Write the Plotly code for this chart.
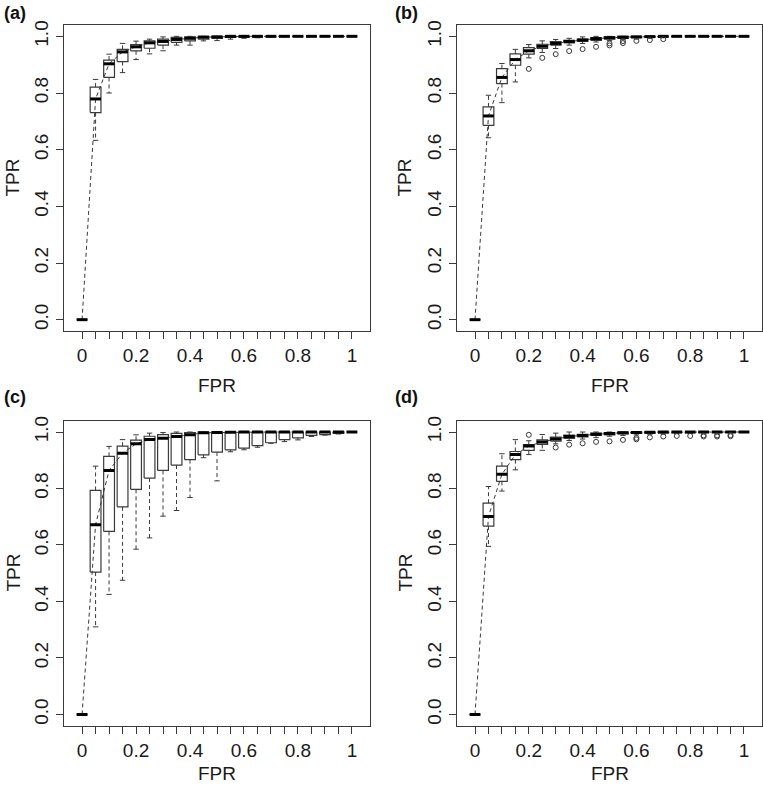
import plotly.graph_objects as go

# ---------------- data ----------------
fpr = [round(i * 0.05, 2) for i in range(21)]
x_tick_labels = ["0", "", "", "", "0.2", "", "", "", "0.4", "", "", "", "0.6", "", "", "", "0.8", "", "", "", "1"]
y_tick_vals = [0, 0.2, 0.4, 0.6, 0.8, 1.0]
y_tick_labels = ["0.0", "0.2", "0.4", "0.6", "0.8", "1.0"]
panel_labels = ["(a)", "(b)", "(c)", "(d)"]

# panel (a)
med_a = [0, 0.779, 0.903, 0.945, 0.963, 0.977, 0.982, 0.989, 0.993, 0.997, 0.998, 1, 1, 1, 1, 1, 1, 1, 1, 1, 1]
q1_a = [0, 0.731, 0.855, 0.911, 0.949, 0.958, 0.969, 0.979, 0.984, 0.990, 0.993, 0.996, 0.997, 0.998, 0.999, 1, 1, 1, 1, 1, 1]
q3_a = [0, 0.821, 0.916, 0.954, 0.971, 0.984, 0.990, 0.996, 0.998, 1, 1, 1, 1, 1, 1, 1, 1, 1, 1, 1, 1]
lo_a = [0, 0.633, 0.800, 0.872, 0.918, 0.938, 0.949, 0.969, 0.969, 0.984, 0.985, 0.990, 0.993, 0.995, 0.997, 0.998, 1, 1, 1, 1, 1]
hi_a = [0, 0.848, 0.937, 0.975, 0.983, 0.990, 0.998, 1, 1, 1, 1, 1, 1, 1, 1, 1, 1, 1, 1, 1, 1]
out_x_a = []
out_y_a = []

# panel (b)
med_b = [0, 0.719, 0.855, 0.918, 0.949, 0.965, 0.975, 0.982, 0.987, 0.992, 0.995, 0.997, 0.998, 0.999, 1, 1, 1, 1, 1, 1, 1]
q1_b = [0, 0.686, 0.833, 0.898, 0.937, 0.957, 0.969, 0.977, 0.982, 0.986, 0.990, 0.993, 0.995, 0.997, 0.998, 1, 1, 1, 1, 1, 1]
q3_b = [0, 0.751, 0.886, 0.938, 0.960, 0.972, 0.981, 0.986, 0.990, 0.995, 0.998, 1, 1, 1, 1, 1, 1, 1, 1, 1, 1]
lo_b = [0, 0.642, 0.766, 0.839, 0.924, 0.943, 0.957, 0.969, 0.975, 0.980, 0.985, 0.988, 0.990, 0.993, 0.995, 1, 1, 1, 1, 1, 1]
hi_b = [0, 0.792, 0.904, 0.954, 0.971, 0.984, 0.989, 0.993, 0.998, 1, 1, 1, 1, 1, 1, 1, 1, 1, 1, 1, 1]
out_x_b = [0.20, 0.25, 0.30, 0.35, 0.40, 0.45, 0.50, 0.50, 0.55, 0.55, 0.60, 0.65, 0.70]
out_y_b = [0.885, 0.924, 0.937, 0.948, 0.955, 0.963, 0.975, 0.968, 0.983, 0.976, 0.984, 0.987, 0.990]

# panel (c)
med_c = [0, 0.672, 0.864, 0.925, 0.958, 0.973, 0.978, 0.984, 0.990, 0.997, 0.998, 0.999, 1, 1, 1, 1, 1, 1, 1, 1, 1]
q1_c = [0, 0.504, 0.648, 0.735, 0.797, 0.837, 0.864, 0.883, 0.902, 0.919, 0.929, 0.937, 0.943, 0.952, 0.962, 0.973, 0.979, 0.988, 0.991, 0.995, 1]
q3_c = [0, 0.793, 0.914, 0.950, 0.971, 0.985, 0.991, 0.995, 0.998, 1, 1, 1, 1, 1, 1, 1, 1, 1, 1, 1, 1]
lo_c = [0, 0.310, 0.425, 0.475, 0.585, 0.625, 0.702, 0.722, 0.768, 0.909, 0.827, 0.930, 0.937, 0.946, 0.960, 0.966, 0.972, 0.984, 0.989, 0.993, 1]
hi_c = [0, 0.879, 0.949, 0.973, 0.990, 0.996, 0.998, 1, 1, 1, 1, 1, 1, 1, 1, 1, 1, 1, 1, 1, 1]
out_x_c = []
out_y_c = []

# panel (d)
med_d = [0, 0.701, 0.850, 0.920, 0.950, 0.965, 0.975, 0.984, 0.988, 0.992, 0.995, 0.997, 0.998, 0.999, 1, 1, 1, 1, 1, 1, 1]
q1_d = [0, 0.667, 0.825, 0.902, 0.935, 0.956, 0.968, 0.977, 0.983, 0.988, 0.990, 0.993, 0.995, 0.996, 0.997, 0.998, 0.998, 0.999, 0.999, 0.999, 1]
q3_d = [0, 0.748, 0.879, 0.931, 0.955, 0.972, 0.982, 0.989, 0.992, 0.996, 0.998, 1, 1, 1, 1, 1, 1, 1, 1, 1, 1]
lo_d = [0, 0.595, 0.791, 0.866, 0.920, 0.935, 0.958, 0.970, 0.975, 0.980, 0.985, 0.988, 0.990, 0.992, 0.993, 0.994, 0.995, 0.996, 0.997, 0.998, 1]
hi_d = [0, 0.807, 0.923, 0.973, 0.969, 0.991, 0.996, 1, 1, 1, 1, 1, 1, 1, 1, 1, 1, 1, 1, 1, 1]
out_x_d = [0.20, 0.30, 0.35, 0.40, 0.45, 0.50, 0.55, 0.60, 0.60, 0.65, 0.70, 0.75, 0.80, 0.85, 0.85, 0.90, 0.90, 0.95, 0.95]
out_y_d = [0.990, 0.945, 0.955, 0.960, 0.965, 0.967, 0.972, 0.979, 0.974, 0.981, 0.984, 0.986, 0.986, 0.988, 0.984, 0.988, 0.984, 0.989, 0.985]

panels = [
    (med_a, q1_a, q3_a, lo_a, hi_a, out_x_a, out_y_a),
    (med_b, q1_b, q3_b, lo_b, hi_b, out_x_b, out_y_b),
    (med_c, q1_c, q3_c, lo_c, hi_c, out_x_c, out_y_c),
    (med_d, q1_d, q3_d, lo_d, hi_d, out_x_d, out_y_d),
]

# ---------------- styling / layout ----------------
W, H = 763, 786
BOX_HW = 0.02     # box half width (FPR units)
CAP_HW = 0.01     # whisker cap half width
LINE_COL = "#3a3a3a"
FONT = "Liberation Sans, Arial, Helvetica, sans-serif"
FS = 19

x_domains = [[64 / W, 370 / W], [457 / W, 762 / W]]
y_domains = [[1 - 331 / H, 1 - 25 / H], [1 - 725.7 / H, 1 - 420.7 / H]]

fig = go.Figure()

for p, (med, q1, q3, lo, hi, ox, oy) in enumerate(panels):
    xa = "x" if p == 0 else f"x{p + 1}"
    ya = "y" if p == 0 else f"y{p + 1}"

    wx, wy, cx, cy, bx, by, mx, my = [], [], [], [], [], [], [], []
    for i, xv in enumerate(fpr):
        wx += [xv, xv, None, xv, xv, None]
        wy += [q3[i], hi[i], None, q1[i], lo[i], None]
        cx += [xv - CAP_HW, xv + CAP_HW, None, xv - CAP_HW, xv + CAP_HW, None]
        cy += [hi[i], hi[i], None, lo[i], lo[i], None]
        bx += [xv - BOX_HW, xv + BOX_HW, xv + BOX_HW, xv - BOX_HW, xv - BOX_HW, None]
        by += [q1[i], q1[i], q3[i], q3[i], q1[i], None]
        mx += [xv - BOX_HW, xv + BOX_HW, None]
        my += [med[i], med[i], None]

    common = dict(xaxis=xa, yaxis=ya, showlegend=False, hoverinfo="skip")
    fig.add_trace(go.Scatter(x=wx, y=wy, mode="lines",
                             line=dict(color=LINE_COL, width=1, dash="4px,3px"), **common))
    fig.add_trace(go.Scatter(x=cx, y=cy, mode="lines",
                             line=dict(color=LINE_COL, width=1), **common))
    fig.add_trace(go.Scatter(x=bx, y=by, mode="lines",
                             line=dict(color=LINE_COL, width=1.2), **common))
    fig.add_trace(go.Scatter(x=fpr, y=med, mode="lines",
                             line=dict(color=LINE_COL, width=1, dash="4px,3px"), **common))
    fig.add_trace(go.Scatter(x=mx, y=my, mode="lines",
                             line=dict(color="#000000", width=3), **common))
    if ox:
        fig.add_trace(go.Scatter(x=ox, y=oy, mode="markers",
                                 marker=dict(symbol="circle-open", size=5, color=LINE_COL,
                                             line=dict(width=1, color=LINE_COL)), **common))

    col = p % 2
    row = p // 2
    xkey = "xaxis" if p == 0 else f"xaxis{p + 1}"
    ykey = "yaxis" if p == 0 else f"yaxis{p + 1}"
    fig.layout[xkey] = dict(
        domain=x_domains[col], anchor=ya, range=[-0.067, 1.067],
        tickmode="array", tickvals=fpr, ticktext=x_tick_labels,
        ticks="outside", ticklen=7, tickwidth=1, tickcolor=LINE_COL,
        showline=True, mirror=True, linecolor=LINE_COL, linewidth=1,
        showgrid=False, zeroline=False, fixedrange=True, automargin=False,
        tickfont=dict(family=FONT, size=FS, color="#1a1a1a"),
    )
    fig.layout[ykey] = dict(
        domain=y_domains[row], anchor=xa, range=[-0.04, 1.04],
        tickmode="array", tickvals=y_tick_vals, ticktext=y_tick_labels,
        tickangle=-90,
        ticks="outside", ticklen=7, tickwidth=1, tickcolor=LINE_COL,
        showline=True, mirror=True, linecolor=LINE_COL, linewidth=1,
        showgrid=False, zeroline=False, fixedrange=True, automargin=False,
        tickfont=dict(family=FONT, size=FS, color="#1a1a1a"),
    )

annotations = []
fpr_y = [1 - 385 / H, 0.0]
fpr_anchor = ["middle", "bottom"]
tpr_x = [0.0, 392 / W]
tpr_y = [1 - 178 / H, 1 - 573 / H]
lab_x = [2 / W, 393 / W]
lab_y = [1 - 12.5 / H, 1 - 397 / H]
for p in range(4):
    col, row = p % 2, p // 2
    xc = (x_domains[col][0] + x_domains[col][1]) / 2
    annotations.append(dict(text="FPR", x=xc, y=fpr_y[row], xref="paper", yref="paper",
                            xanchor="center", yanchor=fpr_anchor[row], showarrow=False,
                            font=dict(family=FONT, size=FS, color="#1a1a1a")))
    annotations.append(dict(text="TPR", x=tpr_x[col], y=tpr_y[row], xref="paper", yref="paper",
                            xanchor="left", yanchor="middle", showarrow=False, textangle=-90,
                            font=dict(family=FONT, size=FS, color="#1a1a1a")))
    annotations.append(dict(text="<b>" + panel_labels[p] + "</b>", x=lab_x[col], y=lab_y[row],
                            xref="paper", yref="paper", xanchor="left", yanchor="middle",
                            showarrow=False, font=dict(family=FONT, size=18, color="#111111")))

fig.update_layout(
    width=W, height=H, autosize=False,
    margin=dict(l=0, r=0, t=0, b=0),
    paper_bgcolor="white", plot_bgcolor="white",
    annotations=annotations,
)

fig.write_html(
    "out.html",
    config={"displayModeBar": False, "staticPlot": True},
    post_script="document.body.style.margin='0';document.body.style.padding='0';document.body.style.overflow='hidden';",
)
